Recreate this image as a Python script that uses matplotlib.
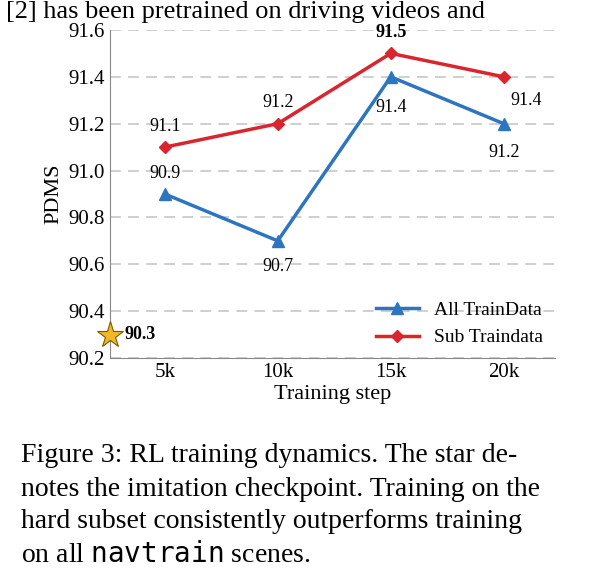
import matplotlib
matplotlib.use("Agg")
import matplotlib.pyplot as plt

steps = [5, 10, 15, 20]
tick_labels = ["5k", "10k", "15k", "20k"]
all_train = [90.9, 90.7, 91.4, 91.2]
sub_train = [91.1, 91.2, 91.5, 91.4]
imitation = 90.3

plt.rcParams['font.family'] = ['Liberation Serif', 'DejaVu Serif']
blue = "#2E75C0"
red = "#D9252E"

fig = plt.figure(figsize=(5.94, 5.87), dpi=100)
ax = fig.add_axes([0.185, 0.39, 0.749, 0.559])
ax.set_xlim(2.57, 22.26)
ax.set_ylim(90.2, 91.6)
ax.set_yticks([90.2, 90.4, 90.6, 90.8, 91.0, 91.2, 91.4, 91.6])
ax.set_yticklabels([f"{v:.1f}" for v in ax.get_yticks()])
ax.set_xticks(steps)
ax.set_xticklabels(tick_labels)
ax.tick_params(length=0, labelsize=15)
ax.grid(axis='y', color='#cccccc', linestyle=(0, (6, 4)), linewidth=1.3)
ax.set_axisbelow(True)
for s in ['top', 'right']:
    ax.spines[s].set_visible(False)
for s in ['left', 'bottom']:
    ax.spines[s].set_color('#888888')

ax.plot(steps, all_train, color=blue, marker='^', markersize=8, linewidth=2.5, label='All TrainData')
ax.plot(steps, sub_train, color=red, marker='D', markersize=6, linewidth=2.5, label='Sub Traindata')
ax.plot([2.57], [imitation], marker='*', markersize=20, color='#F2B824',
        markeredgecolor='#7a5a00', markeredgewidth=0.8, clip_on=False, zorder=5)
ax.text(3.2, imitation, f"{imitation}", fontsize=13, fontweight='bold', va='center')

fs = 13
ax.text(5, all_train[0] + 0.07, f"{all_train[0]}", ha='center', fontsize=fs)
ax.text(5, sub_train[0] + 0.07, f"{sub_train[0]}", ha='center', fontsize=fs)
ax.text(10, all_train[1] - 0.13, f"{all_train[1]}", ha='center', fontsize=fs)
ax.text(10, sub_train[1] + 0.07, f"{sub_train[1]}", ha='center', fontsize=fs)
ax.text(15, sub_train[2] + 0.07, f"{sub_train[2]}", ha='center', fontsize=fs, fontweight='bold')
ax.text(15, all_train[2] - 0.15, f"{all_train[2]}", ha='center', fontsize=fs)
ax.text(21, sub_train[3] - 0.12, f"{sub_train[3]}", ha='center', fontsize=fs)
ax.text(20, all_train[3] - 0.14, f"{all_train[3]}", ha='center', fontsize=fs)

ax.set_ylabel("PDMS", fontsize=16)
ax.set_xlabel("Training step", fontsize=16, labelpad=2)
ax.legend(loc='lower right', frameon=False, fontsize=14, handlelength=2.2,
          borderaxespad=0.2, bbox_to_anchor=(1.0, 0.0))

fig.text(0.01, 0.999, "[2] has been pretrained on driving videos and", fontsize=19, va='top')
caption = ["Figure 3: RL training dynamics. The star de-",
           "notes the imitation checkpoint. Training on the",
           "hard subset consistently outperforms training",
           "on all $\\mathtt{navtrain}$ scenes."]
ys = [455, 489, 522, 555]
for line, y in zip(caption, ys):
    fig.text(0.035, 1 - y / 587, line, fontsize=20, va='center')

fig.savefig("out.png", dpi=100)
